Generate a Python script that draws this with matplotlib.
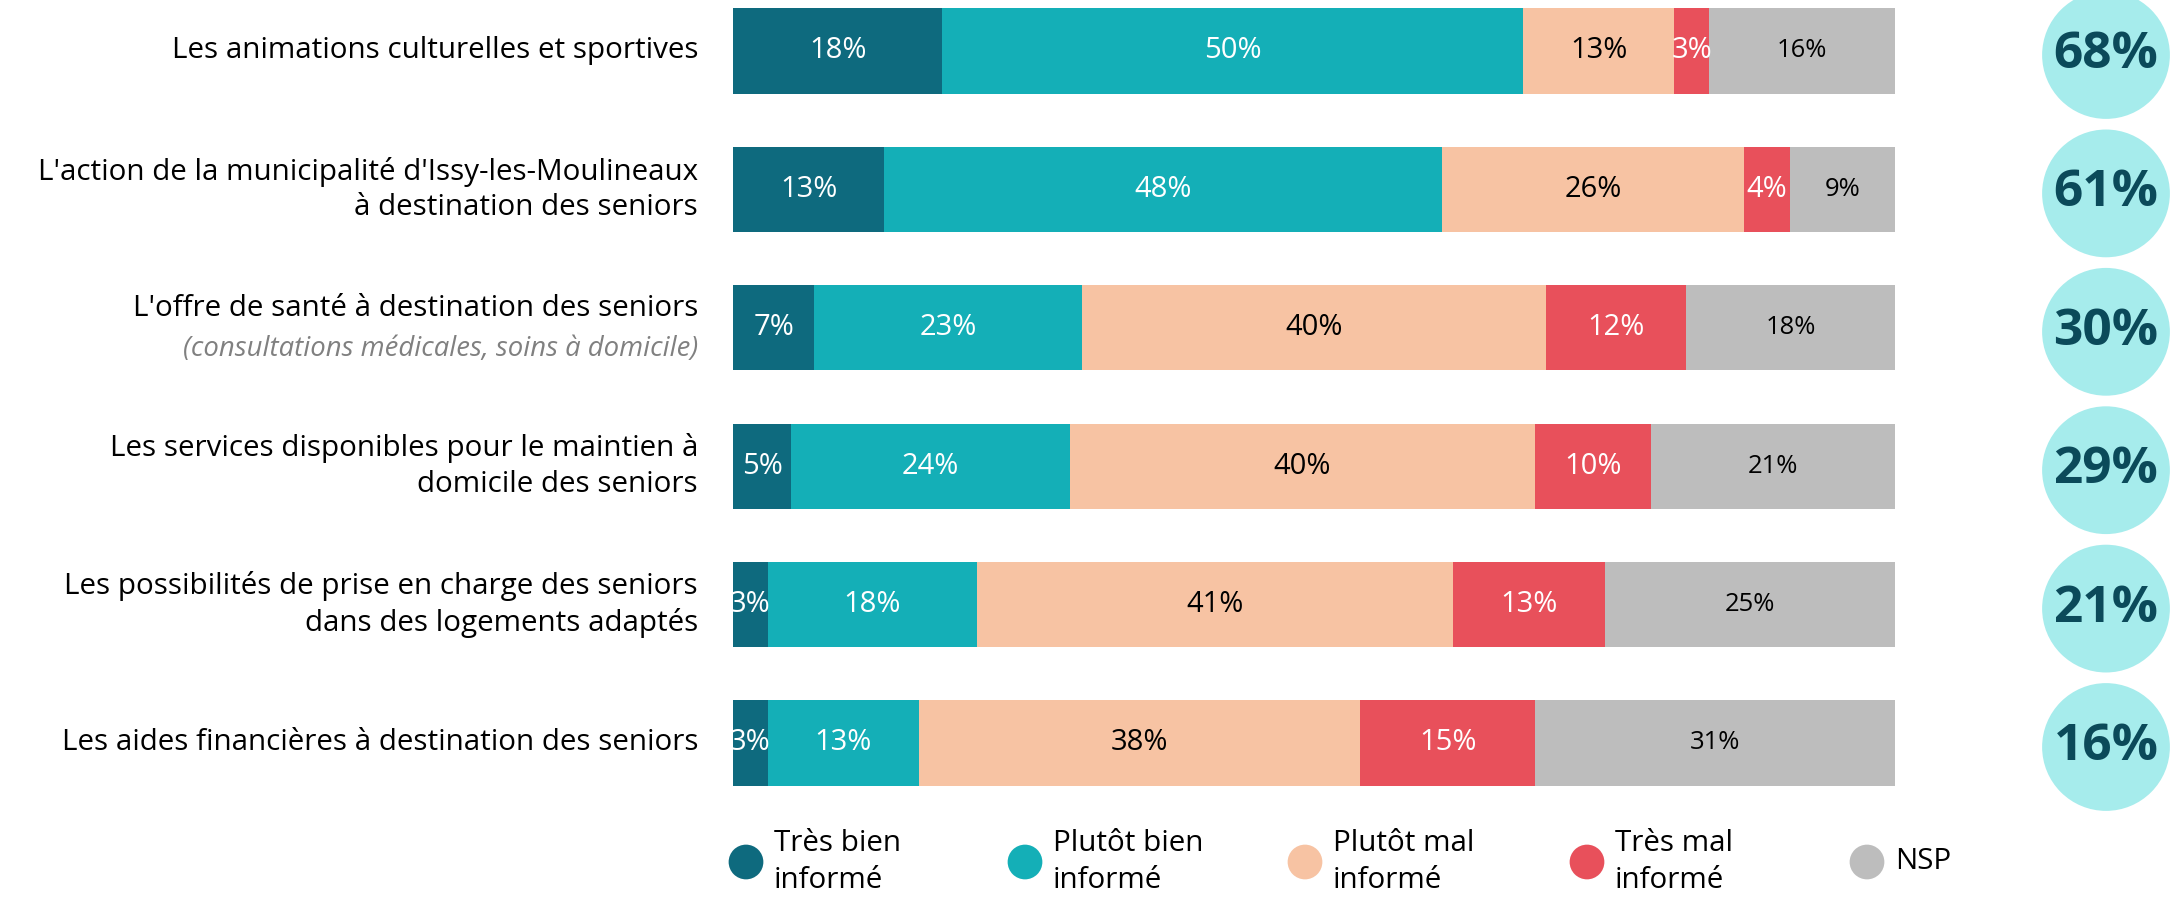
import matplotlib
matplotlib.use("Agg")
import matplotlib.pyplot as plt

categories = [
    "Les animations culturelles et sportives",
    "L'action de la municipalité d'Issy-les-Moulineaux\nà destination des seniors",
    "L'offre de santé à destination des seniors",
    "Les services disponibles pour le maintien à\ndomicile des seniors",
    "Les possibilités de prise en charge des seniors\ndans des logements adaptés",
    "Les aides financières à destination des seniors",
]
subtitles = ["", "", "(consultations médicales, soins à domicile)", "", "", ""]
series_names = ["Très bien\ninformé", "Plutôt bien\ninformé", "Plutôt mal\ninformé", "Très mal\ninformé", "NSP"]
tres_bien = [18, 13, 7, 5, 3, 3]
plutot_bien = [50, 48, 23, 24, 18, 13]
plutot_mal = [13, 26, 40, 40, 41, 38]
tres_mal = [3, 4, 12, 10, 13, 15]
nsp = [16, 9, 18, 21, 25, 31]
totals = [68, 61, 30, 29, 21, 16]

colors = ["#0E6A7E", "#14AFB7", "#F7C3A3", "#E8505B", "#BDBDBD"]
text_colors = ["white", "white", "black", "white", "black"]

plt.rcParams['font.family'] = ['Open Sans', 'DejaVu Sans']

W, H = 2177, 909
fig = plt.figure(figsize=(W / 100, H / 100), dpi=100)
x0_px, x1_px = 733, 1895
ax = fig.add_axes([x0_px / W, 0, (x1_px - x0_px) / W, 1])
row0_px, step_px = 51, 138.4
ax.set_xlim(0, 100)
ax.set_ylim((H - row0_px) / step_px, -row0_px / step_px)
ax.axis('off')

def px_to_x(px):
    return (px - x0_px) / (x1_px - x0_px) * 100

def py_to_y(py):
    return (py - row0_px) / step_px

series = [tres_bien, plutot_bien, plutot_mal, tres_mal, nsp]
ys = list(range(len(categories)))
left = [0] * len(categories)
fs = 21.3
vfs = 21
for s, vals in enumerate(series):
    ax.barh(ys, vals, left=left, height=0.615, color=colors[s], edgecolor='none')
    for i, v in enumerate(vals):
        size = vfs * 0.88 if s == 4 else vfs
        ax.text(left[i] + v / 2, i, f"{v}%", ha='center', va='center',
                color=text_colors[s], fontsize=size)
    left = [l + v for l, v in zip(left, vals)]

# category labels
lx = px_to_x(698)
for i, (c, sub) in enumerate(zip(categories, subtitles)):
    if sub:
        ax.text(lx, i - 0.14, c, ha='right', va='center', fontsize=fs, color='black',
                clip_on=False)
        ax.text(lx, i + 0.15, sub, ha='right', va='center', fontsize=fs * 0.93,
                color='#808080', style='italic', clip_on=False)
    else:
        ax.text(lx, i, c, ha='right', va='center', fontsize=fs, color='black',
                linespacing=1.3, clip_on=False)

# total circles
cx = px_to_x(2106)
cy_off = 4 / step_px
ax.scatter([cx] * len(totals), [y + cy_off for y in ys], s=92 ** 2, color='#A6ECEC',
           edgecolors='none', clip_on=False, zorder=3)
for i, t in enumerate(totals):
    ax.text(cx, i + cy_off, f"{t}%", ha='center', va='center', fontsize=37,
            fontweight='bold', color='#0B4A5A', zorder=4, clip_on=False)

# legend
leg_px = [746, 1025, 1305, 1587, 1867]
ly = py_to_y(862)
for k, name in enumerate(series_names):
    mx = px_to_x(leg_px[k])
    ax.scatter([mx], [ly], s=25 ** 2, color=colors[k], edgecolors='none', clip_on=False)
    ax.text(px_to_x(leg_px[k] + 28), ly, name, ha='left', va='center', fontsize=fs,
            color='black', linespacing=1.32, clip_on=False)

fig.savefig("out.png", dpi=100)
